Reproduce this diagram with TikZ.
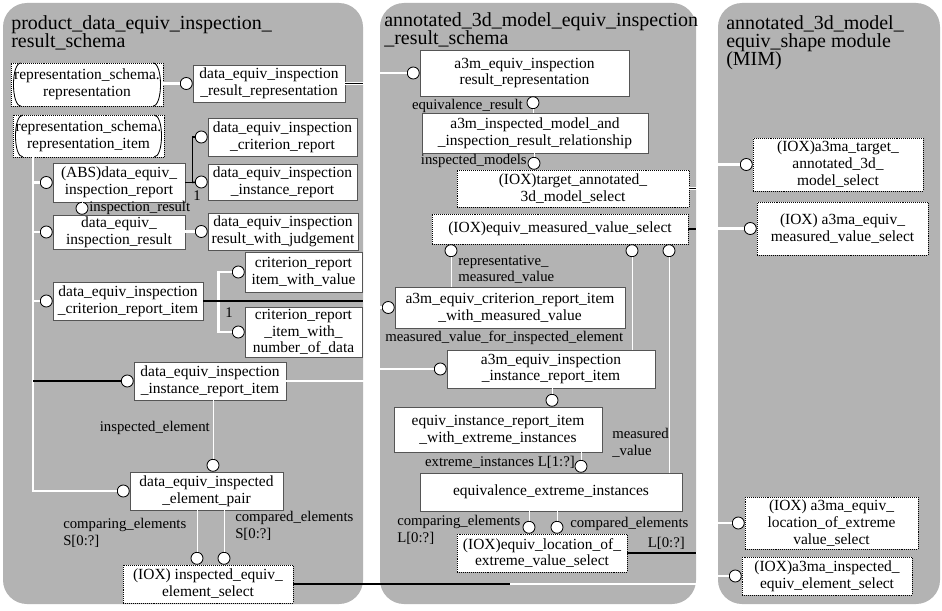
\documentclass[tikz,border=0pt]{standalone}
\usepackage{fontspec}
\setmainfont{Liberation Serif}
\usepackage{tikz}
\usetikzlibrary{positioning,calc}
\definecolor{SchemaGrey}{HTML}{B3B3B3}
\definecolor{EdgeGrey}{HTML}{555555}
\newcommand{\roleFont}{\fontsize{10.5}{12}\selectfont}
\newcommand{\boxFont}{\fontsize{11}{12}\selectfont}

\begin{document}
\begin{tikzpicture}[x=0.025cm,y=-0.025cm,
 schema/.style={fill=SchemaGrey,rounded corners=0.6cm},
 schemaname/.style={anchor=north west,align=left,inner sep=0pt,font=\fontsize{14.2}{13}\selectfont},
 ent/.style={draw=EdgeGrey,line width=0.4pt,fill=white,align=center,inner sep=0.5pt,font=\boxFont},
 sel/.style={ent,draw=black,densely dotted},
 extref/.style={sel,path picture={\draw[solid,line width=0.6pt]
   ([xshift=0.25cm]path picture bounding box.north west) .. controls (path picture bounding box.north west) and (path picture bounding box.south west) .. ([xshift=0.25cm]path picture bounding box.south west)
   ([xshift=-0.25cm]path picture bounding box.north east) .. controls (path picture bounding box.north east) and (path picture bounding box.south east) .. ([xshift=-0.25cm]path picture bounding box.south east);}},
 ring/.style={circle,draw,fill=white,line width=0.6pt,inner sep=0pt,minimum size=0.3cm},
 rel/.style={draw=white,line width=1.8pt},
 attr/.style={draw=white,line width=0.7pt},
 xlink/.style={draw=black,line width=1.1pt},
 role/.style={inner sep=0pt,align=left,font=\roleFont}]
\fill[white] (0,0) rectangle (942,611);
\useasboundingbox (0,0) rectangle (942,611);
\path[schema] (3,3) rectangle (363,604);
\path[schema] (380,3) rectangle (696,604);
\path[schema] (718,3) rectangle (940,604);
\node[schemaname] (nameA) at (11,15) {product\_data\_equiv\_inspection\_\\result\_schema};
\node[schemaname] (nameB) at (384,12) {annotated\_3d\_model\_equiv\_inspection\\\_result\_schema};
\node[schemaname] (nameC) at (726,15) {annotated\_3d\_model\_\\equiv\_shape module\\(MIM)};

\node[extref,minimum width=3.8cm,minimum height=1.075cm] (repRep) at (87,84.5) {representation\_schema.\\representation};
\node[extref,minimum width=3.775cm,minimum height=1.05cm] (repItem) at (88.5,136) {representation\_schema.\\representation\_item};
\node[ent,minimum width=3.8cm,minimum height=0.925cm] (resRep) at (269,83.5) {data\_equiv\_inspection\\\_result\_representation};
\node[ent,minimum width=3.725cm,minimum height=0.95cm] (critReport) at (282.5,137) {data\_equiv\_inspection\\\_criterion\_report};
\node[ent,minimum width=3.3cm,minimum height=0.975cm] (absReport) at (119,182.5) {(ABS)data\_equiv\_\\inspection\_report};
\node[ent,minimum width=3.725cm,minimum height=0.9cm] (instReport) at (282.5,182) {data\_equiv\_inspection\\\_instance\_report};
\node[ent,minimum width=3.3cm,minimum height=0.85cm] (insResult) at (119,232) {data\_equiv\_\\inspection\_result};
\node[ent,minimum width=3.75cm,minimum height=0.925cm] (resJudge) at (283,231.5) {data\_equiv\_inspection\\result\_with\_judgement};
\node[ent,minimum width=2.925cm,minimum height=1cm] (critValue) at (303.5,272) {criterion\_report\\item\_with\_value};
\node[ent,minimum width=3.75cm,minimum height=0.95cm] (critItem) at (128,301) {data\_equiv\_inspection\\\_criterion\_report\_item};
\node[ent,minimum width=2.925cm,minimum height=1.25cm] (critNum) at (303.5,332) {criterion\_report\\\_item\_with\_\\number\_of\_data};
\node[ent,minimum width=3.8cm,minimum height=0.95cm] (instItem) at (210,381) {data\_equiv\_inspection\\\_instance\_report\_item};
\node[ent,minimum width=3.825cm,minimum height=0.95cm] (elemPair) at (206.5,491) {data\_equiv\_inspected\\\_element\_pair};
\node[sel,minimum width=4.25cm,minimum height=0.95cm] (inspSel) at (208,584) {(IOX) inspected\_equiv\_\\element\_select};

\node[ent,minimum width=5.225cm,minimum height=1.15cm] (a3mResRep) at (524.5,73) {a3m\_equiv\_inspection\\result\_representation};
\node[ent,minimum width=5.65cm,minimum height=1cm] (a3mRel) at (535,133) {a3m\_inspected\_model\_and\\\_inspection\_result\_relationship};
\node[sel,minimum width=5.8cm,minimum height=0.925cm] (tgtSel) at (573,188.5) {(IOX)target\_annotated\_\\3d\_model\_select};
\node[sel,minimum width=6.4cm,minimum height=0.75cm] (measSel) at (560,229) {(IOX)equiv\_measured\_value\_select};
\node[ent,minimum width=5.75cm,minimum height=1.025cm] (a3mCrit) at (510,307.5) {a3m\_equiv\_criterion\_report\_item\\\_with\_measured\_value};
\node[ent,minimum width=5.2cm,minimum height=0.95cm] (a3mInst) at (551,369) {a3m\_equiv\_inspection\\\_instance\_report\_item};
\node[ent,minimum width=5.2cm,minimum height=1.125cm] (eqInstRep) at (498,429.5) {equiv\_instance\_report\_item\\\_with\_extreme\_instances};
\node[ent,minimum width=6.55cm,minimum height=0.95cm] (eqExt) at (551,492) {equivalence\_extreme\_instances};
\node[sel,minimum width=4.25cm,minimum height=0.95cm] (locSel) at (542,553) {(IOX)equiv\_location\_of\_\\extreme\_value\_select};

\node[sel,minimum width=4.25cm,minimum height=1.325cm] (tgtSelR) at (838,164.5) {(IOX)a3ma\_target\_\\annotated\_3d\_\\model\_select};
\node[sel,minimum width=4.275cm,minimum height=1.325cm] (measSelR) at (842.5,228.5) {(IOX) a3ma\_equiv\_\\measured\_value\_select};
\node[sel,minimum width=4.325cm,minimum height=1.3cm] (locSelR) at (831.5,523) {(IOX) a3ma\_equiv\_\\location\_of\_extreme\\value\_select};
\node[sel,minimum width=4.25cm,minimum height=0.95cm] (inspSelR) at (827,576) {(IOX)a3ma\_inspected\_\\equiv\_element\_select};

\node[ring,left=0pt of resRep] (resRepC) {};
\node[ring,left=0pt of critReport] (critReportC) {};
\node[ring,left=0pt of absReport] (absReportC) {};
\node[ring,left=0pt of instReport] (instReportC) {};
\node[ring,left=0pt of insResult] (insResultC) {};
\node[ring,anchor=south] (insResultT) at (82,0 |- insResult.north) {};
\node[ring,left=0pt of resJudge] (resJudgeC) {};
\node[ring,left=0pt of critValue] (critValueC) {};
\node[ring,left=0pt of critItem] (critItemC) {};
\node[ring,left=0pt of critNum] (critNumC) {};
\node[ring,left=0pt of instItem] (instItemC) {};
\node[ring,left=0pt of elemPair] (elemPairC) {};
\node[ring,anchor=south] (elemPairT) at (213,0 |- elemPair.north) {};
\node[ring,anchor=south] (inspSelA) at (197,0 |- inspSel.north) {};
\node[ring,anchor=south] (inspSelB) at (224,0 |- inspSel.north) {};
\node[ring,left=0pt of a3mResRep] (a3mResRepC) {};
\node[ring,anchor=north] (a3mResRepB) at (533,0 |- a3mResRep.south) {};
\node[ring,anchor=south] (tgtSelT) at (534,0 |- tgtSel.north) {};
\node[ring,anchor=north] (measSelA) at (451,0 |- measSel.south) {};
\node[ring,anchor=north] (measSelB) at (632,0 |- measSel.south) {};
\node[ring,anchor=north] (measSelC) at (669,0 |- measSel.south) {};
\node[ring,left=0pt of a3mCrit] (a3mCritC) {};
\node[ring,left=0pt of a3mInst] (a3mInstC) {};
\node[ring,anchor=south] (eqInstRepT) at (552,0 |- eqInstRep.north) {};
\node[ring,anchor=south] (eqExtT) at (581,0 |- eqExt.north) {};
\node[ring,anchor=south] (locSelA) at (529,0 |- locSel.north) {};
\node[ring,anchor=south] (locSelB) at (557,0 |- locSel.north) {};
\node[ring,left=0pt of tgtSelR] (tgtSelRC) {};
\node[ring,left=0pt of measSelR] (measSelRC) {};
\node[ring,left=0pt of locSelR] (locSelRC) {};
\node[ring,left=0pt of inspSelR] (inspSelRC) {};

\coordinate (trunk) at (33,0 |- repItem.south);
\coordinate (absFork) at ($(absReport.east)+(7,0)$);
\coordinate (critFork) at ($(critItem.east)+(15,0)$);
\coordinate (edgeRes) at (363,0 |- resRep.east);
\coordinate (edgeCrit) at (363,0 |- critItem.east);
\coordinate (edgeInsp) at (510,0 |- inspSel.east);
\coordinate (edgeTgt) at (696,0 |- tgtSel.east);
\coordinate (edgeMeas) at (696,0 |- measSel.east);
\coordinate (edgeLoc) at (696,0 |- locSel.east);

\draw[rel] (repRep.east |- resRepC) -- (resRepC);
\draw[rel] (trunk) |- (elemPairC);
\draw[rel] (absReportC) -- (absReportC -| trunk);
\draw[rel] (insResultC) -- (insResultC -| trunk);
\draw[rel] (critItemC) -- (critItemC -| trunk);
\draw[xlink] (instItemC) -- (instItemC -| trunk);
\draw[xlink] (absReport.east) -- (absFork) |- (critReportC);
\draw[xlink] (absFork) -- (instReportC);
\node[role] (oneA) at (197,196) {1};
\draw[attr] (insResultT) -- (insResultT |- absReport.south);
\node[role,anchor=west] (lblInsResult) at (89,208) {inspection\_result};
\draw[rel] (insResult.east |- resJudgeC) -- (resJudgeC);
\draw[rel] (critValueC) -| (critFork) |- (critNumC);
\draw[rel] (critItem.east) -- (critFork);
\node[role] (oneB) at (229,313) {1};
\draw[attr] (elemPairT) -- (elemPairT |- instItem.south);
\node[role,anchor=east] (lblInspEl) at (210,428) {inspected\_element};
\draw[attr] (inspSelA) -- (inspSelA |- elemPair.south);
\draw[attr] (inspSelB) -- (inspSelB |- elemPair.south);
\node[role,anchor=north west] (lblCmpingS) at (63,518) {comparing\_elements\\S[0:?]};
\node[role,anchor=north west] (lblCmpedS) at (235,511) {compared\_elements\\S[0:?]};

\draw[rel] (resRep.east) -- (371,0 |- resRep.east) |- (a3mResRepC);
\draw[xlink] (resRep.east) -- (edgeRes);
\draw[rel] (critItem.east) -- (371,0 |- critItem.east) |- (a3mCritC);
\draw[xlink] (critItem.east) -- (edgeCrit);
\draw[rel] (instItem.east) -- (371,0 |- instItem.east) |- (a3mInstC);
\draw[rel] (inspSel.east) -- (707,0 |- inspSel.east) |- (inspSelRC);
\draw[xlink] (inspSel.east) -- (edgeInsp);
\draw[rel] (tgtSel.east) -- (707,0 |- tgtSel.east) |- (tgtSelRC);
\draw[xlink] (tgtSel.east) -- (edgeTgt);
\draw[rel] (measSel.east) -- (707,0 |- measSel.east) |- (measSelRC);
\draw[xlink] (measSel.east) -- (edgeMeas);
\draw[rel] (locSel.east) -- (707,0 |- locSel.east) |- (locSelRC);
\draw[xlink] (locSel.east) -- (edgeLoc);

\draw[attr] (a3mResRepB) -- (a3mResRepB |- a3mRel.north);
\node[role,anchor=east] (lblEqRes) at (523,106) {equivalence\_result};
\draw[attr] (tgtSelT) -- (tgtSelT |- a3mRel.south);
\node[role,anchor=east] (lblModels) at (527,161) {inspected\_models};
\draw[attr] (measSelA) -- (measSelA |- a3mCrit.north);
\draw[attr] (measSelB) -- (measSelB |- a3mInst.north);
\draw[attr] (measSelC) -- (measSelC |- eqExt.north);
\node[role,anchor=north west] (lblRepVal) at (458,255) {representative\_\\measured\_value};
\node[role,anchor=west] (lblValFor) at (385,338) {measured\_value\_for\_inspected\_element};
\draw[attr] (eqInstRepT) -- (eqInstRepT |- a3mInst.south);
\draw[attr] (eqExtT) -- (eqExtT |- eqInstRep.south);
\node[role,anchor=east] (lblExtreme) at (575,462) {extreme\_instances L[1:?]};
\node[role,anchor=north west] (lblMeasVal) at (612,428) {measured\\\_value};
\draw[attr] (locSelA) -- (locSelA |- eqExt.south);
\draw[attr] (locSelB) -- (locSelB |- eqExt.south);
\node[role,anchor=north west] (lblCmpingL) at (397,515) {comparing\_elements\\L[0:?]};
\node[role,anchor=west] (lblCmpedL) at (570,524) {compared\_elements};
\node[role,anchor=east] (lblCmpedLm) at (685,543) {L[0:?]};
\end{tikzpicture}
\end{document}
